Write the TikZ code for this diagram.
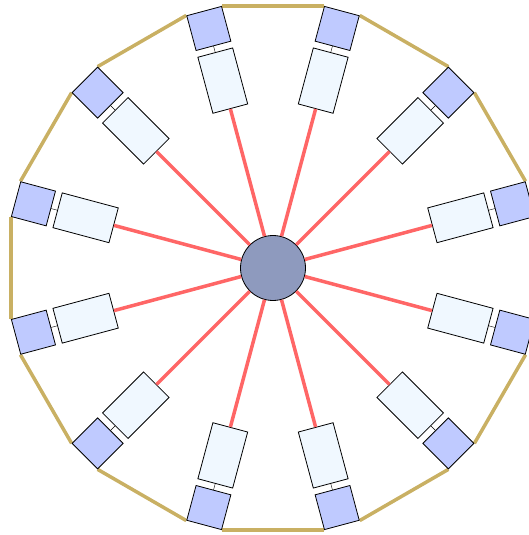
\documentclass[tikz,border=0pt]{standalone}
\usetikzlibrary{backgrounds}
\definecolor{hubfill}{RGB}{142,154,190}
\definecolor{boxfill}{RGB}{240,248,255}
\definecolor{padfill}{RGB}{191,202,255}
\definecolor{rimcol}{RGB}{201,176,99}
\definecolor{spokecol}{RGB}{255,102,102}

\begin{document}
\begin{tikzpicture}[x=1pt, y=1pt, thick,
    box/.style={draw, fill=boxfill, inner sep=0pt, minimum width=58pt, minimum height=36pt},
    pad/.style={draw, fill=padfill, inner sep=0pt, minimum size=36pt},
    spoke/.style={draw=spokecol, line width=3.5pt},
    rim/.style={draw=rimcol, line width=3.5pt}]
  \useasboundingbox (-273,-267) rectangle (256,268);
  \node[draw, circle, fill=hubfill, minimum size=65pt, inner sep=0pt] (hub) at (0,0) {};
  \foreach \i in {0,...,11} {
    \pgfmathsetmacro{\a}{15+30*\i}
    \node[box, rotate=\a] (box\i) at (\a:194) {};
    \node[pad, rotate=\a] (pad\i) at (\a:248) {};
    \draw[spoke] (hub) -- (box\i);
    \draw[thin] (box\i) -- (pad\i);
  }
  % rim behind the pads
  \begin{scope}[on background layer]
    \foreach \i in {0,...,11} {
      \pgfmathtruncatemacro{\j}{mod(\i+1,12)}
      \draw[rim] (pad\i.north east) -- (pad\j.south east);
    }
  \end{scope}
\end{tikzpicture}
\end{document}
